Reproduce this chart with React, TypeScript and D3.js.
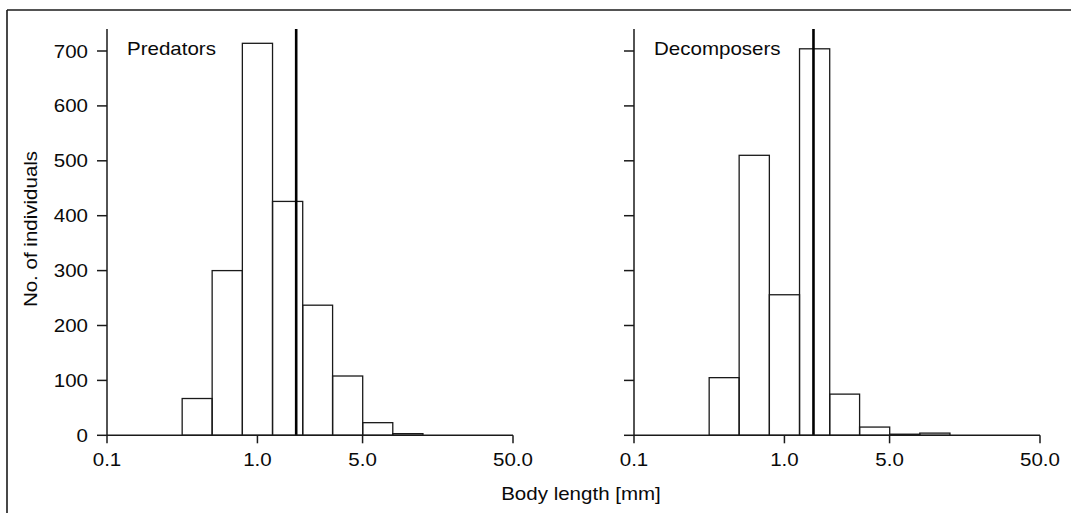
import React, { useEffect, useRef } from 'react';
import * as d3 from 'd3';

// body length classes (mm), log-spaced edges
const binEdges = [0.316, 0.5, 0.794, 1.26, 2.0, 3.16, 5.01, 7.94, 12.6];
const predators = [67, 300, 714, 426, 237, 108, 23, 3];
const decomposers = [105, 510, 256, 704, 75, 15, 2, 4];
const medians = [1.81, 1.56];
const panelNames = ['Predators', 'Decomposers'];
const xTicks = [0.1, 1.0, 5.0, 50.0];
const yTicks = [0, 100, 200, 300, 400, 500, 600, 700];

const FONT = '"Liberation Sans", Arial, Helvetica, sans-serif';
const SX = 1.14; // glyphs in the source are wider than tall

function addText(g, x, y, str, anchor = 'start', rotate = 0) {
  return g
    .append('text')
    .attr('transform', `translate(${x},${y}) rotate(${rotate}) scale(${SX},1)`)
    .attr('font-family', FONT)
    .attr('font-size', 18)
    .attr('fill', '#0a0a0a')
    .attr('text-anchor', anchor)
    .text(str);
}

function App() {
  const svgRef = useRef();

  useEffect(() => {
    const svg = d3.select(svgRef.current);
    svg.selectAll('*').remove();

    const stroke = '#1a1a1a';

    // frame
    svg.append('line').attr('x1', 7).attr('x2', 1071).attr('y1', 10).attr('y2', 10)
      .attr('stroke', stroke).attr('stroke-width', 1.6);
    svg.append('line').attr('x1', 7).attr('x2', 7).attr('y1', 10).attr('y2', 513)
      .attr('stroke', stroke).attr('stroke-width', 1.6);

    const y = d3.scaleLinear().domain([0, 700]).range([435.3, 51]);
    const yTop = 29;

    const panels = [
      { left: 107, right: 513, values: predators },
      { left: 634, right: 1040, values: decomposers },
    ];

    panels.forEach((p, i) => {
      const x = d3.scaleLog().domain([0.1, 50]).range([p.left, p.right]);
      const g = svg.append('g');

      // bars
      g.selectAll('.bar')
        .data(p.values)
        .enter()
        .append('rect')
        .attr('class', 'bar')
        .attr('x', (d, j) => x(binEdges[j]))
        .attr('width', (d, j) => x(binEdges[j + 1]) - x(binEdges[j]))
        .attr('y', (d) => y(d))
        .attr('height', (d) => y(0) - y(d))
        .attr('fill', 'none')
        .attr('stroke', stroke)
        .attr('stroke-width', 1.3);

      // median line
      g.append('line')
        .attr('x1', x(medians[i]))
        .attr('x2', x(medians[i]))
        .attr('y1', yTop)
        .attr('y2', y(0))
        .attr('stroke', '#000')
        .attr('stroke-width', 2.6);

      // x axis
      g.append('line').attr('x1', p.left).attr('x2', p.right).attr('y1', y(0)).attr('y2', y(0))
        .attr('stroke', stroke).attr('stroke-width', 1.5);
      xTicks.forEach((t) => {
        g.append('line').attr('x1', x(t)).attr('x2', x(t)).attr('y1', y(0)).attr('y2', y(0) + 8)
          .attr('stroke', stroke).attr('stroke-width', 1.5);
        addText(g, x(t), 466, d3.format('.1f')(t), 'middle');
      });

      // y axis
      g.append('line').attr('x1', p.left).attr('x2', p.left).attr('y1', yTop).attr('y2', y(0))
        .attr('stroke', stroke).attr('stroke-width', 1.5);
      yTicks.forEach((t) => {
        g.append('line').attr('x1', p.left - 10).attr('x2', p.left).attr('y1', y(t)).attr('y2', y(t))
          .attr('stroke', stroke).attr('stroke-width', 1.5);
        if (i === 0) addText(g, p.left - 19, y(t) + 6.5, String(t), 'end');
      });

      addText(g, p.left + 20, 55, panelNames[i]);
    });

    addText(svg, 581, 500, 'Body length [mm]', 'middle');
    addText(svg, 37, 229, 'No. of individuals', 'middle', -90);
  }, []);

  return (
    <svg
      ref={svgRef}
      width={1071}
      height={513}
      style={{ position: 'absolute', left: 0, top: 0, background: '#fff' }}
    ></svg>
  );
}

export default App;
